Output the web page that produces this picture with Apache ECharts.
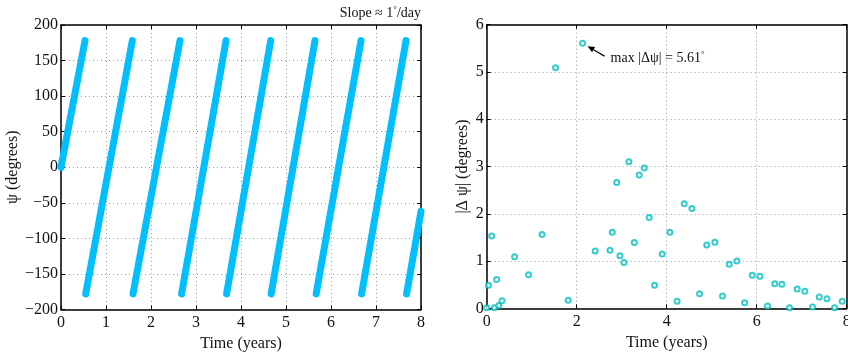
<!DOCTYPE html>
<html>
<head>
<meta charset="utf-8">
<script src="https://cdn.jsdelivr.net/npm/echarts@6/dist/echarts.min.js"></script>
<style>
  html, body { margin: 0; padding: 0; background: #fff; }
  #chart { width: 848px; height: 355px; }
</style>
</head>
<body>
<div id="chart"></div>
<script>
// Heading angle psi (degrees) vs time (years): each run goes from -180 up to +180 before wrapping
const psiRun1 = [[0, 0], [0.533, 178]];
const psiRun2 = [[0.549, -178], [1.585, 178]];
const psiRun3 = [[1.60, -178], [2.644, 178]];
const psiRun4 = [[2.68, -178], [3.667, 178]];
const psiRun5 = [[3.68, -178], [4.66, 178]];
const psiRun6 = [[4.67, -178], [5.644, 178]];
const psiRun7 = [[5.67, -178], [6.667, 178]];
const psiRun8 = [[6.68, -178], [7.667, 178]];
const psiRun9 = [[7.68, -178], [8.0, -62]];
const psiRuns = [psiRun1, psiRun2, psiRun3, psiRun4, psiRun5, psiRun6, psiRun7, psiRun8, psiRun9];

// |Δψ| error samples: time (years) and value (degrees)
const dTime = [0.00, 0.04, 0.11, 0.17, 0.22, 0.27, 0.34, 0.62, 0.93, 1.23, 1.53, 1.81, 2.13,
  2.41, 2.74, 2.79, 2.89, 2.96, 3.05, 3.16, 3.28, 3.39, 3.50, 3.61, 3.73, 3.90, 4.07, 4.23,
  4.39, 4.56, 4.73, 4.89, 5.07, 5.24, 5.39, 5.56, 5.73, 5.90, 6.07, 6.24, 6.40, 6.56, 6.73,
  6.90, 7.07, 7.24, 7.39, 7.56, 7.73, 7.90];
const dPsi = [0.01, 0.49, 1.53, 0.01, 0.61, 0.06, 0.16, 1.09, 0.71, 1.56, 5.09, 0.17, 5.61,
  1.21, 1.23, 1.61, 2.66, 1.11, 0.97, 3.10, 1.39, 2.82, 2.97, 1.92, 0.49, 1.15, 1.61, 0.15,
  2.21, 2.11, 0.31, 1.34, 1.40, 0.26, 0.93, 1.00, 0.12, 0.70, 0.68, 0.05, 0.52, 0.51, 0.01,
  0.41, 0.36, 0.03, 0.24, 0.20, 0.01, 0.15];

const leftTicksX = { min: 0, max: 8, interval: 1 };
const leftTicksY = { min: -200, max: 200, interval: 50 };
const rightTicksX = { min: 0, max: 8, interval: 2 };
const rightTicksY = { min: 0, max: 6, interval: 1 };

const FONT = 'Liberation Serif';
const lineBlue = '#00BFFF';
const teal = '#00BFBF';

const chart = echarts.init(document.getElementById('chart'), null, { renderer: 'canvas' });

// typographic minus for negative tick values
const fmtTick = v => String(v).replace('-', '\u2212');

function mainAxis(range, extra, labelMargin) {
  return Object.assign({
    type: 'value',
    min: range.min, max: range.max, interval: range.interval,
    axisLine: { show: true, onZero: false, lineStyle: { color: '#000', width: 1.5 } },
    axisTick: { show: true, inside: true, length: 4, lineStyle: { color: '#000', width: 1 } },
    axisLabel: { color: '#111', fontFamily: FONT, fontSize: 16, margin: labelMargin, formatter: fmtTick },
    splitLine: { show: true, lineStyle: { color: '#9a9a9a', type: [1, 3], width: 1 } },
    nameTextStyle: { color: '#111', fontFamily: FONT, fontSize: 16 }
  }, extra);
}
function frameAxis(range, extra) {
  return Object.assign({
    type: 'value',
    min: range.min, max: range.max, interval: range.interval,
    axisLine: { show: true, onZero: false, lineStyle: { color: '#000', width: 1.5 } },
    axisTick: { show: true, inside: true, length: 4, lineStyle: { color: '#000', width: 1 } },
    axisLabel: { show: false },
    splitLine: { show: false }
  }, extra);
}

const leftSeries = psiRuns.map(run => ({
  type: 'line',
  xAxisIndex: 0, yAxisIndex: 0,
  data: run,
  symbol: 'none',
  clip: false,
  lineStyle: { color: lineBlue, width: 7, cap: 'round' },
  silent: true,
  animation: false
}));

chart.setOption({
  animation: false,
  backgroundColor: '#fff',
  grid: [
    { left: 61, top: 25, width: 360, height: 284.5, containLabel: false, outerBoundsMode: 'none' },
    { left: 486.7, top: 24.7, width: 360, height: 283.6, containLabel: false, outerBoundsMode: 'none' }
  ],
  xAxis: [
    mainAxis(leftTicksX, { gridIndex: 0, name: 'Time (years)', nameLocation: 'middle', nameGap: 26 }, 5),
    mainAxis(rightTicksX, { gridIndex: 1, name: 'Time (years)', nameLocation: 'middle', nameGap: 26 }, 5),
    frameAxis(leftTicksX, { gridIndex: 0, position: 'top' }),
    frameAxis(rightTicksX, { gridIndex: 1, position: 'top' })
  ],
  yAxis: [
    mainAxis(leftTicksY, { gridIndex: 0, name: 'ψ (degrees)', nameLocation: 'middle', nameGap: 36 }, 3),
    mainAxis(rightTicksY, { gridIndex: 1, name: '|Δ ψ| (degrees)', nameLocation: 'middle', nameGap: 16 }, 3),
    frameAxis(leftTicksY, { gridIndex: 0, position: 'right' }),
    frameAxis(rightTicksY, { gridIndex: 1, position: 'right' })
  ],
  series: leftSeries.concat([
    {
      type: 'scatter',
      xAxisIndex: 1, yAxisIndex: 1,
      data: dTime.map((t, i) => [t, dPsi[i]]),
      symbol: 'emptyCircle',
      symbolSize: 5,
      clip: false,
      itemStyle: { color: teal, borderColor: teal, borderWidth: 1.7 },
      silent: true
    }
  ])
});

// Annotations: slope note above the left panel, and an arrow pointing at the largest error
function addAnnotations() {
  const tip = chart.convertToPixel({ xAxisIndex: 1, yAxisIndex: 1 }, [2.13, 5.61]);
  const tipX = tip[0] + 5, tipY = tip[1] + 3;
  const tailX = tipX + 17, tailY = tipY + 10;
  const ang = Math.atan2(tailY - tipY, tailX - tipX);
  const headLen = 7, headW = 3;
  const bx = tipX + headLen * Math.cos(ang), by = tipY + headLen * Math.sin(ang);
  const px = -Math.sin(ang) * headW, py = Math.cos(ang) * headW;

  chart.setOption({
    graphic: [
      {
        type: 'text',
        right: 848 - 421, top: 5,
        style: {
          text: '{n|Slope ≈ 1}{s|°}{n|/day}',
          fill: '#111',
          rich: {
            n: { fontFamily: FONT, fontSize: 14, fill: '#111', verticalAlign: 'bottom' },
            s: { fontFamily: FONT, fontSize: 9, fill: '#111', verticalAlign: 'top', padding: [0, 0, 6, 0] }
          }
        }
      },
      {
        type: 'line',
        shape: { x1: bx, y1: by, x2: tailX, y2: tailY },
        style: { stroke: '#000', lineWidth: 1.2 }
      },
      {
        type: 'polygon',
        shape: { points: [[tipX, tipY], [bx + px, by + py], [bx - px, by - py]] },
        style: { fill: '#000' }
      },
      {
        type: 'text',
        x: tailX + 6, y: tailY - 6,
        style: {
          text: '{n|max |Δψ| = 5.61}{s|°}',
          rich: {
            n: { fontFamily: FONT, fontSize: 14, fill: '#111' },
            s: { fontFamily: FONT, fontSize: 9, fill: '#111', padding: [0, 0, 8, 0] }
          }
        }
      }
    ]
  });
}
addAnnotations();
</script>
</body>
</html>
